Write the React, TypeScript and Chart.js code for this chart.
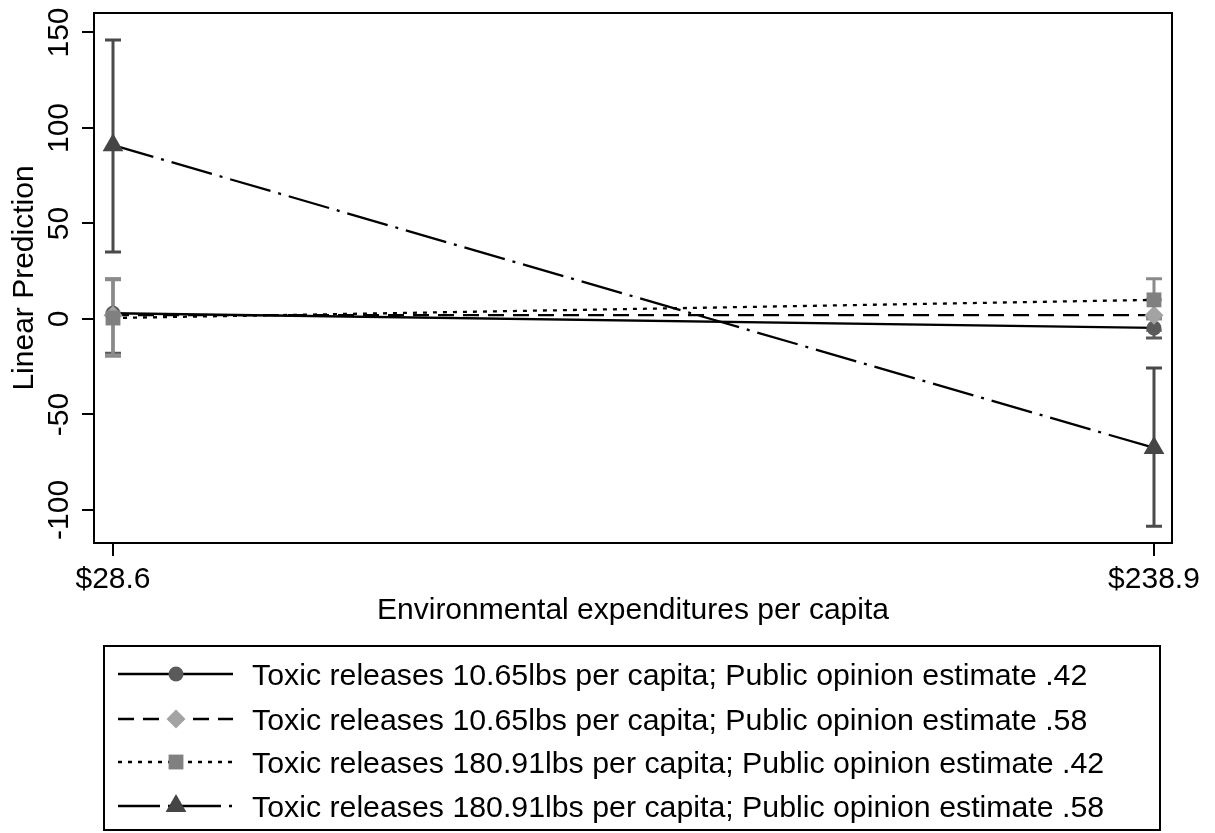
import React, { useEffect, useRef } from "react";
import { Chart, registerables } from "chart.js";

Chart.register(...registerables);

// ---- data ----
const xTickLabels = ["$28.6", "$238.9"];
const xPositions = [0, 1];
const yTickValues = [-100, -50, 0, 50, 100, 150];

const seriesNames = [
  "Toxic releases 10.65lbs per capita; Public opinion estimate .42",
  "Toxic releases 10.65lbs per capita; Public opinion estimate .58",
  "Toxic releases 180.91lbs per capita; Public opinion estimate .42",
  "Toxic releases 180.91lbs per capita; Public opinion estimate .58",
];

const s1Values = [3, -4.7];
const s1Low = [-18, -10];
const s1High = [21, 0.5];

const s2Values = [2, 2];
const s2Low = [-19, -6];
const s2High = [21, 10];

const s3Values = [0.5, 10];
const s3Low = [-19.5, 0];
const s3High = [20.5, 21];

const s4Values = [91, -67.5];
const s4Low = [35, -108.5];
const s4High = [146, -25.7];

// ---- styles ----
const FONT = "'Liberation Sans', Arial, sans-serif";
const markerColors = ["#5a5a5a", "#a3a3a3", "#808080", "#454545"];
const barColors = ["#5a5a5a", "#9a9a9a", "#8a8a8a", "#4a4a4a"];
const pointStyles = ["circle", "rectRot", "rect", "triangle"];
const pointRadii = [7.5, 9.5, 10.5, 12];
const dashes: number[][] = [[], [16, 9], [4, 6], [42, 8, 3, 8]];

const valuesList = [s1Values, s2Values, s3Values, s4Values];
const lowList = [s1Low, s2Low, s3Low, s4Low];
const highList = [s1High, s2High, s3High, s4High];

function drawMarker(ctx: CanvasRenderingContext2D, style: string, x: number, y: number, r: number, color: string) {
  ctx.save();
  ctx.fillStyle = color;
  ctx.beginPath();
  if (style === "circle") {
    ctx.arc(x, y, r, 0, Math.PI * 2);
  } else if (style === "rectRot") {
    ctx.moveTo(x, y - r);
    ctx.lineTo(x + r, y);
    ctx.lineTo(x, y + r);
    ctx.lineTo(x - r, y);
    ctx.closePath();
  } else if (style === "rect") {
    const s = r * Math.SQRT1_2;
    ctx.rect(x - s, y - s, 2 * s, 2 * s);
  } else if (style === "triangle") {
    const h = r * 1.5;
    const w = r * Math.sqrt(3);
    ctx.moveTo(x, y - r);
    ctx.lineTo(x + w / 2, y - r + h);
    ctx.lineTo(x - w / 2, y - r + h);
    ctx.closePath();
  }
  ctx.fill();
  ctx.restore();
}

const framePlugin = {
  id: "frameAndExtras",
  beforeDatasetsDraw(chart: any) {
    const { ctx, scales } = chart;
    const xs = scales.x;
    const ys = scales.y;
    ctx.save();
    ctx.lineWidth = 3;
    for (let s = 0; s < 4; s++) {
      ctx.strokeStyle = barColors[s];
      for (let i = 0; i < xPositions.length; i++) {
        const px = xs.getPixelForValue(xPositions[i]);
        const yl = ys.getPixelForValue(lowList[s][i]);
        const yh = ys.getPixelForValue(highList[s][i]);
        ctx.beginPath();
        ctx.moveTo(px, yl);
        ctx.lineTo(px, yh);
        ctx.moveTo(px - 8, yl);
        ctx.lineTo(px + 8, yl);
        ctx.moveTo(px - 8, yh);
        ctx.lineTo(px + 8, yh);
        ctx.stroke();
      }
    }
    ctx.restore();
  },
  afterDraw(chart: any) {
    const { ctx, chartArea, scales } = chart;
    const ys = scales.y;
    ctx.save();
    ctx.strokeStyle = "#000";
    ctx.lineWidth = 2;
    ctx.strokeRect(chartArea.left, chartArea.top, chartArea.right - chartArea.left, chartArea.bottom - chartArea.top);
    ctx.fillStyle = "#000";
    ctx.font = `30px ${FONT}`;
    ctx.textAlign = "center";
    ctx.textBaseline = "middle";
    for (const v of yTickValues) {
      const py = ys.getPixelForValue(v);
      ctx.save();
      ctx.translate(60, py);
      ctx.rotate(-Math.PI / 2);
      ctx.fillText(String(v), 0, 0);
      ctx.restore();
    }
    const bx = 104, by = 646, bw = 1160 - 104, bh = 830 - 646;
    ctx.lineWidth = 2;
    ctx.strokeRect(bx, by, bw, bh);
    const rows = [674, 719, 762, 806];
    for (let s = 0; s < 4; s++) {
      const ry = rows[s];
      ctx.save();
      ctx.strokeStyle = "#000";
      ctx.lineWidth = 2.5;
      ctx.setLineDash(dashes[s]);
      ctx.beginPath();
      ctx.moveTo(118, ry);
      ctx.lineTo(233, ry);
      ctx.stroke();
      ctx.restore();
      drawMarker(ctx, pointStyles[s], 176, ry, pointRadii[s], markerColors[s]);
      ctx.fillStyle = "#000";
      ctx.font = `30.3px ${FONT}`;
      ctx.textAlign = "left";
      ctx.textBaseline = "middle";
      ctx.fillText(seriesNames[s], 252, ry + 3);
    }
    ctx.restore();
  },
};

export default function App() {
  const ref = useRef<HTMLCanvasElement | null>(null);
  useEffect(() => {
    document.body.style.margin = "0";
    const canvas = ref.current;
    if (!canvas) return;
    const datasets = valuesList.map((vals, s) => ({
      label: seriesNames[s],
      data: vals.map((v, i) => ({ x: xPositions[i], y: v })),
      order: 3 - s,
      borderColor: "#000",
      borderWidth: 2.3,
      borderDash: dashes[s],
      pointStyle: pointStyles[s] as any,
      pointRadius: pointRadii[s],
      pointBackgroundColor: markerColors[s],
      pointBorderColor: markerColors[s],
      pointBorderWidth: 0,
      fill: false,
      tension: 0,
    }));
    const chart = new Chart(canvas, {
      type: "line",
      data: { datasets },
      options: {
        responsive: false,
        animation: false,
        devicePixelRatio: 1,
        layout: { padding: { left: 3, right: 43, top: 13, bottom: 200 } },
        plugins: { legend: { display: false }, tooltip: { enabled: false } },
        scales: {
          x: {
            type: "linear",
            min: -0.01825,
            max: 1.0173,
            border: { display: false },
            grid: { drawOnChartArea: false, drawTicks: true, tickLength: 13, color: "#000", lineWidth: 2 },
            afterBuildTicks: (scale: any) => {
              scale.ticks = xPositions.map((v) => ({ value: v }));
            },
            afterFit: (scale: any) => {
              scale.height = 90;
            },
            ticks: {
              autoSkip: false,
              maxRotation: 0,
              minRotation: 0,
              padding: 6,
              color: "#000",
              font: { family: FONT, size: 30 },
              callback: (v: any) => {
                const idx = xPositions.indexOf(Number(v));
                return idx >= 0 ? xTickLabels[idx] : "";
              },
            },
            title: {
              display: true,
              text: "Environmental expenditures per capita",
              color: "#000",
              font: { family: FONT, size: 30 },
              padding: { top: 4, bottom: 4 },
            },
          },
          y: {
            type: "linear",
            min: -117.3,
            max: 160.2,
            border: { display: false },
            grid: { drawOnChartArea: false, drawTicks: true, tickLength: 12, color: "#000", lineWidth: 2 },
            afterBuildTicks: (scale: any) => {
              scale.ticks = yTickValues.map((v) => ({ value: v }));
            },
            afterFit: (scale: any) => {
              scale.width = 91;
            },
            ticks: { display: false },
            title: {
              display: true,
              text: "Linear Prediction",
              color: "#000",
              font: { family: FONT, size: 30 },
              padding: { top: 4, bottom: 4 },
            },
          },
        },
      },
      plugins: [framePlugin],
    });
    return () => chart.destroy();
  }, []);
  return <canvas ref={ref} width={1215} height={833} style={{ display: "block" }} />;
}
